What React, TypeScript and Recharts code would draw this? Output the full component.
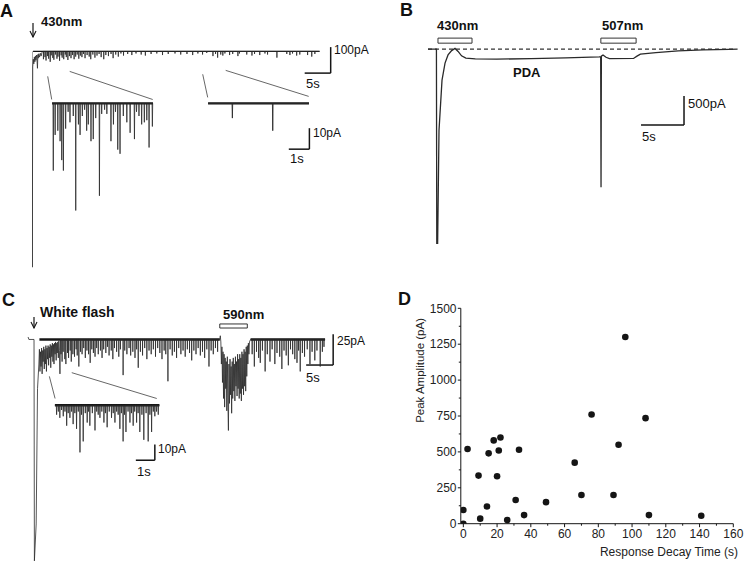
import React from 'react';
import {
  LineChart, Line, XAxis, YAxis, ReferenceLine, ReferenceArea,
  ScatterChart, Scatter, Label,
} from 'recharts';

const FONT = "'Liberation Sans', Arial, Helvetica, sans-serif";
const INK = '#151515';
const TRACE = '#2a2a2a';

// ---- Panel A: 430nm flash (time s, current pA) ----
const aOnset: [number, number][] = [
  [0, 0], [0.06, -830], [0.14, -60], [0.25, -30], [0.35, -48], [0.45, -22], [0.55, -40],
  [0.65, -18], [0.75, -34], [0.85, -14], [0.95, -30], [1.05, -65], [1.12, -12], [1.2, -26],
  [1.3, -9], [1.45, -22], [1.6, -7], [1.75, -18], [1.9, -5], [2.1, 0],
];
// [time, amplitude] of the inward events after the flash
const aSpikes: [number, number][] = [
  [2.2, 30], [2.5, 22], [2.7, 35], [3.0, 18], [3.2, 28], [3.5, 40], [3.7, 15], [4.0, 25],
  [4.2, 32], [4.5, 12], [4.8, 28], [5.0, 20], [5.3, 36], [5.6, 15], [5.8, 24], [6.1, 30],
  [6.4, 12], [6.6, 22], [6.9, 33], [7.2, 18], [7.5, 26], [7.8, 14], [8.1, 30], [8.4, 20],
  [8.7, 12], [9.0, 28], [9.3, 16], [9.6, 22], [9.9, 10], [10.2, 26], [10.6, 14], [11.0, 20],
  [11.3, 30], [11.7, 12], [12.1, 24], [12.5, 16], [12.9, 10], [13.3, 22], [13.8, 30], [14.2, 14],
  [14.7, 18], [15.2, 10], [15.6, 26], [16.1, 12], [16.6, 20], [17.1, 8], [17.6, 16], [18.4, 10],
  [19.2, 14], [20.0, 8], [21.0, 12], [21.8, 16], [22.9, 10], [24.0, 8], [25.1, 14], [26.2, 10],
  [27.5, 8], [28.6, 12], [29.8, 10], [30.9, 14], [31.9, 8], [32.8, 12], [33.6, 6], [34.8, 18],
  [35.3, 10], [35.7, 24], [36.3, 12], [36.7, 16], [37.1, 8], [38.0, 14], [38.6, 10], [39.6, 18],
  [39.9, 8], [41.3, 12], [42.3, 16], [42.8, 10], [43.8, 14], [44.8, 8], [45.3, 12], [47.1, 24],
  [49.0, 10], [49.6, 14], [50.1, 8], [50.9, 16], [51.5, 12], [53.0, 14], [53.8, 20], [54.4, 10],
];
const aEnd = 55.3;
const aInset1Spikes: [number, number][] = [
  [0.06, 32], [0.15, 15], [0.28, 13], [0.39, 18], [0.47, 27], [0.55, 32], [0.66, 12], [0.78, 4],
  [0.87, 9], [1.03, 6], [1.15, 51], [1.28, 10], [1.36, 15], [1.47, 6], [1.58, 3], [1.68, 13],
  [1.76, 10], [1.89, 18], [2.0, 17], [2.12, 7], [2.3, 44], [2.41, 5], [2.55, 3], [2.66, 5],
  [2.86, 18], [2.98, 10], [3.08, 4], [3.19, 22], [3.3, 24], [3.46, 6], [3.63, 9], [3.79, 14],
  [4.0, 17], [4.1, 4], [4.22, 6], [4.35, 10], [4.48, 9], [4.6, 8], [4.71, 21], [4.87, 11],
];
const aInset1End = 4.9;
const aInset2Spikes: [number, number][] = [[1.18, 7], [3.14, 13]];
const aInset2End = 4.9;

// ---- Panel B: 430nm then 507nm, with PDA (time s, current pA) ----
const bTrace: [number, number][] = [
  [0, 0], [0.98, 0], [1.02, -3350], [1.12, -3350], [1.28, -1400], [1.63, -535], [1.98, -240],
  [2.33, -100], [2.75, -25], [3.14, 12], [3.5, -40], [3.9, -115], [4.4, -155], [5.5, -168],
  [8, -172], [12, -165], [16, -150], [19.9, -135], [20.08, -130], [20.12, -2380], [20.16, -120],
  [20.35, -100], [20.7, -140], [21.1, -162], [23.9, -160], [24.3, -120], [24.7, -86], [26.5, -60],
  [29.1, -30], [32, -12], [35, -3], [36, 0],
];

// ---- Panel C: white flash then 590nm (time s, current pA) ----
const cOnset: [number, number][] = [
  [0, 2], [0.15, 0], [1.1, 0], [1.17, -180], [1.5, -150], [1.75, -40], [2.0, -20],
  [2.1, -8], [2.2, -26], [2.3, -10], [2.4, -22], [2.5, -7], [2.6, -28], [2.7, -9], [2.8, -18],
  [2.9, -6], [3.0, -24], [3.1, -8], [3.2, -20], [3.3, -5], [3.4, -26], [3.5, -7], [3.6, -16],
  [3.7, -5], [3.8, -21], [3.9, -6], [4.0, -15], [4.1, -4], [4.2, -23], [4.3, -5], [4.4, -14],
  [4.5, -3], [4.6, -18], [4.7, -4], [4.8, -20], [4.9, -3], [5.0, -12], [5.1, -2], [5.2, -17],
  [5.3, -3], [5.4, -11], [5.5, -2], [5.6, -15], [5.7, -1], [5.8, -9], [5.9, -28], [6.0, 0],
];
const cSpikesEarly: [number, number][] = [
  [6.1, 12], [6.3, 18], [6.5, 10], [6.8, 16], [7.0, 20],
  [7.3, 11], [7.5, 15], [7.8, 9], [8.0, 18], [8.3, 12], [8.6, 14], [8.9, 8], [9.1, 13],
  [9.4, 22], [9.7, 10], [10.0, 12], [10.3, 7], [10.6, 15], [10.9, 9], [11.2, 12], [11.5, 19],
  [11.8, 8], [12.1, 11], [12.4, 14], [12.7, 7], [13.0, 12], [13.4, 9], [13.7, 15], [14.0, 8],
  [14.4, 11], [14.7, 6], [15.0, 13], [15.4, 9], [15.7, 16], [16.0, 7], [16.4, 10], [16.8, 14],
  [17.1, 8], [17.6, 29], [17.9, 9], [18.3, 12], [18.7, 7], [19.0, 13], [19.4, 10], [19.8, 15],
  [20.1, 8], [20.4, 23], [20.8, 10], [21.2, 13], [21.6, 7], [22.0, 16], [22.4, 9], [22.8, 12],
  [23.2, 8], [23.6, 14], [24.0, 7], [24.4, 11], [24.8, 16], [25.2, 9], [25.5, 12], [25.9, 34],
  [26.3, 8], [26.7, 13], [27.1, 10], [27.5, 15], [27.9, 7], [28.3, 12], [28.7, 9], [29.1, 14],
  [29.5, 8], [29.9, 11], [30.3, 17], [30.7, 9], [31.1, 12], [31.5, 7], [31.9, 13], [32.3, 10],
  [32.7, 15], [33.1, 8], [33.5, 22], [33.9, 9], [34.3, 12], [34.7, 7], [35.1, 10],
];
const cBurst: [number, number][] = [
  [35.5, 0], [35.6, 3], [35.7, -2], [35.8, -20], [35.9, -6], [36.0, -35], [36.1, -10], [36.2, -48],
  [36.3, -12], [36.4, -55], [36.5, -15], [36.6, -40], [36.7, -18], [36.8, -58], [36.9, -14],
  [37.0, -50], [37.1, -74], [37.2, -20], [37.3, -52], [37.4, -16], [37.5, -45], [37.6, -22],
  [37.7, -60], [37.8, -18], [37.9, -48], [38.0, -15], [38.1, -42], [38.2, -20], [38.3, -50],
  [38.4, -14], [38.5, -38], [38.6, -18], [38.7, -46], [38.8, -12], [38.9, -40], [39.0, -16],
  [39.1, -48], [39.2, -12], [39.3, -44], [39.4, -15], [39.5, -50], [39.6, -10], [39.7, -40],
  [39.8, -12], [39.9, -45], [40.0, -8], [40.1, -38], [40.2, -10], [40.3, -42], [40.4, -6],
  [40.5, -30], [40.6, -5], [40.7, -20], [40.8, -3], [40.9, -12], [41.0, -2], [41.2, 0],
];
const cSpikesLate: [number, number][] = [
  [41.5, 12], [41.9, 22], [42.3, 10], [42.7, 15], [43.0, 19], [43.4, 9], [43.9, 26], [44.3, 12],
  [44.8, 18], [45.2, 8], [45.7, 20], [46.1, 11], [46.6, 14], [47.0, 24], [47.4, 9], [47.8, 13],
  [48.2, 21], [48.6, 8], [49.0, 12], [49.4, 16], [49.8, 19], [50.1, 9], [50.4, 26], [50.8, 11],
  [51.2, 14], [51.7, 8], [52.2, 20], [52.6, 10], [53.1, 17], [53.5, 9], [54.1, 22], [54.5, 10],
  [54.8, 6],
];
const cEnd = 55;
const cInsetSpikes: [number, number][] = [
  [0.09, 6], [0.18, 4], [0.26, 8], [0.35, 3], [0.44, 7], [0.53, 4], [0.62, 13], [0.7, 5],
  [0.79, 8], [0.88, 4], [0.96, 12], [1.05, 5], [1.14, 15], [1.23, 4], [1.32, 30], [1.4, 6],
  [1.49, 23], [1.6, 5], [1.7, 11], [1.77, 4], [1.84, 13], [1.97, 5], [2.11, 16], [2.2, 4],
  [2.28, 6], [2.37, 8], [2.47, 4], [2.58, 11], [2.66, 5], [2.75, 14], [2.86, 4], [2.98, 8],
  [3.07, 5], [3.16, 11], [3.25, 4], [3.33, 6], [3.42, 15], [3.5, 5], [3.59, 23], [3.66, 6],
  [3.74, 17], [3.85, 4], [3.95, 11], [4.03, 5], [4.12, 13], [4.2, 4], [4.3, 11], [4.38, 5],
  [4.47, 17], [4.58, 6], [4.68, 22], [4.8, 5], [4.91, 23], [5.0, 6], [5.09, 17], [5.18, 4],
  [5.26, 7], [5.35, 4], [5.44, 6],
];
const cInsetEnd = 5.5;

// ---- Panel D: scatter ----
const decayTime = [0, 0, 2.5, 9, 10, 14, 15, 18, 20, 21, 22, 26, 31, 33, 36, 49, 66, 70, 76, 89, 92, 96, 108, 110, 141];
const peakAmp = [95, 0, 520, 335, 35, 120, 490, 580, 330, 510, 600, 25, 165, 515, 60, 150, 425, 200, 760, 200, 550, 1300, 735, 60, 55];
const dXTicks = [0, 10, 20, 30, 40, 50, 60, 70, 80, 90, 100, 110, 120, 130, 140, 150, 160];
const dYTicks = [0, 125, 250, 375, 500, 625, 750, 875, 1000, 1125, 1250, 1375, 1500];

type Pt = { t: number; v: number };
const toPts = (pairs: [number, number][]): Pt[] => pairs.map(([t, v]) => ({ t, v }));

function spikeTrain(spikes: [number, number][], start: number, end: number): Pt[] {
  const pts: Pt[] = [{ t: start, v: 0 }];
  spikes.forEach(([t, a]) => {
    pts.push({ t: t - 0.015, v: 0 }, { t, v: -a }, { t: t + 0.015, v: 0 });
  });
  pts.push({ t: end, v: 0 });
  return pts;
}

const traceA = [...toPts(aOnset), ...spikeTrain(aSpikes, 2.1, aEnd)];
const traceA1 = spikeTrain(aInset1Spikes, 0, aInset1End);
const traceA2 = spikeTrain(aInset2Spikes, 0, aInset2End);
const traceB = toPts(bTrace);
const traceC = [
  ...toPts(cOnset),
  ...spikeTrain(cSpikesEarly, 6.0, 35.5),
  ...toPts(cBurst),
  ...spikeTrain(cSpikesLate, 41.2, cEnd),
];
const traceC1 = spikeTrain(cInsetSpikes, 0, cInsetEnd);
const scatterData = decayTime.map((x, i) => ({ x, y: peakAmp[i] }));

// frame: where t=0 / 0pA sit on the page, px per s, px per pA, shown ranges
type Frame = { x0: number; y0: number; sx: number; sy: number; t: [number, number]; a: [number, number] };
const frameA: Frame = { x0: 32.3, y0: 51, sx: 5.2, sy: 0.26, t: [0, 60], a: [-850, 40] };
const frameA1: Frame = { x0: 52, y0: 103.3, sx: 20.6, sy: 2.1, t: [-0.1, 5.0], a: [-55, 4] };
const frameA2: Frame = { x0: 208, y0: 103.3, sx: 20.6, sy: 2.1, t: [-0.1, 5.1], a: [-25, 4] };
const frameB: Frame = { x0: 428, y0: 49, sx: 8.6, sy: 0.058, t: [0, 36.5], a: [-3450, 330] };
const frameC: Frame = { x0: 28, y0: 339.5, sx: 5.4, sy: 1.23, t: [-0.2, 58], a: [-185, 15] };
const frameC1: Frame = { x0: 55, y0: 405, sx: 19, sy: 1.57, t: [-0.1, 5.6], a: [-40, 4] };

function traceChart(f: Frame, children: React.ReactNode) {
  const left = f.x0 + f.t[0] * f.sx;
  const width = (f.t[1] - f.t[0]) * f.sx;
  const top = f.y0 - f.a[1] * f.sy;
  const height = (f.a[1] - f.a[0]) * f.sy;
  return (
    <div style={{ position: 'absolute', left, top }}>
      <LineChart width={width} height={height} margin={{ top: 0, right: 0, bottom: 0, left: 0 }}>
        <XAxis type="number" dataKey="t" domain={f.t} hide allowDataOverflow />
        <YAxis type="number" domain={f.a} hide allowDataOverflow />
        {children}
      </LineChart>
    </div>
  );
}

// scale bar: corner at (t, a - da); vertical da up, horizontal dt left
function scaleBar(t: number, a: number, dt: number, da: number) {
  return [
    <ReferenceLine key="sv" segment={[{ x: t, y: a }, { x: t, y: a - da }]} stroke={INK} strokeWidth={1.5} />,
    <ReferenceLine key="sh" segment={[{ x: t - dt, y: a - da }, { x: t, y: a - da }]} stroke={INK} strokeWidth={1.5} />,
  ];
}

// noisy holding current drawn as a thick zero line under the events
function baseline(key: string, t1: number, t2: number, w: number) {
  return <ReferenceLine key={key} segment={[{ x: t1, y: 0 }, { x: t2, y: 0 }]} stroke={INK} strokeWidth={w} />;
}

function zoomLine(key: string, x1: number, y1: number, x2: number, y2: number) {
  return <ReferenceLine key={key} segment={[{ x: x1, y: y1 }, { x: x2, y: y2 }]} stroke="#666" strokeWidth={1} />;
}

function Txt({ x, cy, size = 12, bold = false, children }: { x: number; cy: number; size?: number; bold?: boolean; children: React.ReactNode }) {
  return (
    <div style={{ position: 'absolute', left: x, top: cy - size / 2, fontSize: size, lineHeight: 1, fontWeight: bold ? 700 : 400, whiteSpace: 'nowrap', color: '#111' }}>
      {children}
    </div>
  );
}

function Arrow({ x, y1, y2 }: { x: number; y1: number; y2: number }) {
  const h = y2 - y1;
  return (
    <svg style={{ position: 'absolute', left: x - 4, top: y1 }} width={8} height={h + 1}>
      <line x1={4} x2={4} y1={0} y2={h} stroke={INK} strokeWidth={1.2} />
      <path d={`M1,${h - 6} L4,${h} L7,${h - 6}`} fill="none" stroke={INK} strokeWidth={1.1} />
    </svg>
  );
}

function XTick(props: any) {
  const { x, y, payload } = props;
  const major = payload.value % 20 === 0;
  return (
    <g>
      <line x1={x} x2={x} y1={y} y2={y + (major ? 3.5 : 2)} stroke={INK} />
      {major && (
        <text x={x} y={y + 6} dy="0.71em" textAnchor="middle" fontSize={12} fill="#222" fontFamily={FONT}>{payload.value}</text>
      )}
    </g>
  );
}

function YTick(props: any) {
  const { x, y, payload } = props;
  const major = payload.value % 250 === 0;
  return (
    <g>
      <line x1={x - (major ? 3 : 2)} x2={x} y1={y} y2={y} stroke={INK} />
      {major && (
        <text x={x - 4.3} y={y} dy="0.355em" textAnchor="end" fontSize={12} fill="#222" fontFamily={FONT}>{payload.value}</text>
      )}
    </g>
  );
}

const line = (key: string, data: Pt[], w: number) => (
  <Line key={key} data={data} dataKey="v" type="linear" stroke={TRACE} strokeWidth={w} dot={false} isAnimationActive={false} />
);

export default function App() {
  return (
    <div style={{ position: 'absolute', left: 0, top: 0, width: 745, height: 572, background: '#fff', fontFamily: FONT, overflow: 'hidden' }}>
      {/* A */}
      {traceChart(frameA, [
        zoomLine('z1', 3.02, -96, 3.79, -185),
        zoomLine('z2', 7.25, -77, 23.21, -185),
        zoomLine('z3', 32.83, -88, 33.79, -177),
        zoomLine('z4', 37.25, -73, 53.21, -173),
        ...scaleBar(57.44, 16.5, 5, 100),
        baseline('ab', 0.2, aEnd, 1.3),
        line('a', traceA, 0.8),
      ])}
      {traceChart(frameA1, [
        baseline('a1b', 0, aInset1End, 2.2),
        line('a1', traceA1, 0.8),
      ])}
      {traceChart(frameA2, [
        ...scaleBar(4.92, -11.8, 1, 10),
        baseline('a2b', 0, aInset2End, 2.4),
        line('a2', traceA2, 0.9),
      ])}

      {/* B */}
      {traceChart(frameB, [
        <ReferenceLine key="base" segment={[{ x: 0, y: 0 }, { x: 35.5, y: 0 }]} stroke="#333" strokeWidth={1.2} strokeDasharray="4 3" />,
        <ReferenceArea key="s1" x1={1.16} x2={5.12} y1={103} y2={190} fill="#fff" fillOpacity={1} stroke="#333" strokeWidth={1} />,
        <ReferenceArea key="s2" x1={20.1} x2={24.2} y1={103} y2={190} fill="#fff" fillOpacity={1} stroke="#333" strokeWidth={1} />,
        ...scaleBar(29.77, -810, 5, 500),
        line('b', traceB, 1.3),
      ])}

      {/* C */}
      {traceChart(frameC, [
        zoomLine('c1', 3.94, -30, 5.0, -48),
        zoomLine('c2', 8.09, -27, 23.83, -48),
        <ReferenceArea key="s3" x1={35.5} x2={40.6} y1={9.3} y2={12.6} fill="#fff" fillOpacity={1} stroke="#333" strokeWidth={1} />,
        ...scaleBar(56.5, 4.2, 5, 25),
        baseline('cb1', 2.1, 35.5, 2.4),
        baseline('cb2', 41.2, cEnd, 2.4),
        line('c', traceC, 0.8),
      ])}
      {traceChart(frameC1, [
        ...scaleBar(5.26, -25, 1, 10),
        baseline('c1b', 0, cInsetEnd, 2.4),
        line('c1t', traceC1, 0.8),
      ])}

      {/* D */}
      <div style={{ position: 'absolute', left: 380, top: 290 }}>
        <ScatterChart width={365} height={282} margin={{ top: 18.3, right: 11.7, bottom: 18.3, left: 0 }}>
          <XAxis type="number" dataKey="x" domain={[-1.5, 160]} ticks={dXTicks} interval={0} allowDataOverflow
            height={30} tickSize={0} tickMargin={0} tickLine={false} tick={(p: any) => <XTick {...p} />} axisLine={{ stroke: INK }}>
            <Label value="Response Decay Time (s)" content={() => (
              <text x={358} y={262} textAnchor="end" dominantBaseline="central" fontSize={12} fill="#222" fontFamily={FONT}>Response Decay Time (s)</text>
            )} />
          </XAxis>
          <YAxis type="number" dataKey="y" domain={[0, 1500]} ticks={dYTicks} interval={0} allowDataOverflow
            width={80.8} tickSize={0} tickMargin={0} tickLine={false} tick={(p: any) => <YTick {...p} />} axisLine={{ stroke: INK }}>
            <Label value="Peak Amplitude (pA)" content={() => (
              <text transform="translate(40, 28) rotate(-90)" textAnchor="end" dominantBaseline="central" fontSize={11.5} fill="#222" fontFamily={FONT}>Peak Amplitude (pA)</text>
            )} />
          </YAxis>
          <Scatter data={scatterData} fill={INK} isAnimationActive={false}
            shape={(p: any) => <circle cx={p.cx} cy={p.cy} r={3.3} fill={INK} />} />
        </ScatterChart>
      </div>

      {/* labels */}
      <Txt x={0} cy={11} size={18} bold>A</Txt>
      <Arrow x={33} y1={23} y2={37} />
      <Txt x={41} cy={21} size={13} bold>430nm</Txt>
      <Txt x={334} cy={50}>100pA</Txt>
      <Txt x={306} cy={83} size={13}>5s</Txt>
      <Txt x={313} cy={133}>10pA</Txt>
      <Txt x={290} cy={158} size={13}>1s</Txt>

      <Txt x={400} cy={10} size={18} bold>B</Txt>
      <Txt x={437} cy={25} size={13} bold>430nm</Txt>
      <Txt x={602} cy={25} size={13} bold>507nm</Txt>
      <Txt x={513} cy={72.5} size={13} bold>PDA</Txt>
      <Txt x={688} cy={103} size={13}>500pA</Txt>
      <Txt x={642} cy={136} size={13}>5s</Txt>

      <Txt x={2} cy={300} size={18} bold>C</Txt>
      <Arrow x={33.5} y1={317} y2={328} />
      <Txt x={40} cy={312} size={14} bold>White flash</Txt>
      <Txt x={223} cy={314} size={13} bold>590nm</Txt>
      <Txt x={337} cy={341}>25pA</Txt>
      <Txt x={306} cy={377} size={13}>5s</Txt>
      <Txt x={158} cy={449}>10pA</Txt>
      <Txt x={137} cy={471} size={13}>1s</Txt>

      <Txt x={398} cy={299} size={18} bold>D</Txt>
    </div>
  );
}
